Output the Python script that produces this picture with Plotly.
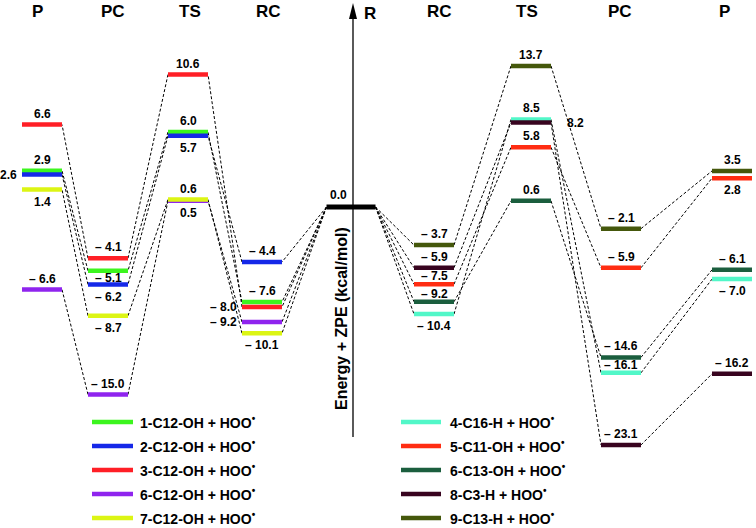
import plotly.graph_objects as go

# ---------------- data ----------------
STAGES = ["RC", "TS", "PC", "P"]

LEFT_NAMES = ["1-C12-OH", "2-C12-OH", "3-C12-OH", "6-C12-OH", "7-C12-OH"]
LEFT_RC = [-7.6, -4.4, -8.0, -9.2, -10.1]
LEFT_TS = [6.0, 5.7, 10.6, 0.5, 0.6]
LEFT_PC = [-5.1, -6.2, -4.1, -15.0, -8.7]
LEFT_P = [2.9, 2.6, 6.6, -6.6, 1.4]

RIGHT_NAMES = ["4-C16-H", "5-C11-OH", "6-C13-OH", "8-C3-H", "9-C13-H"]
RIGHT_RC = [-10.4, -7.5, -9.2, -5.9, -3.7]
RIGHT_TS = [8.5, 5.8, 0.6, 8.2, 13.7]
RIGHT_PC = [-16.1, -5.9, -14.6, -23.1, -2.1]
RIGHT_P = [-7.0, 2.8, -6.1, -16.2, 3.5]

R_ENERGY = 0.0
PARTNER = "HOO"
Y_TITLE = "Energy + ZPE (kcal/mol)"

# ---------------- style / layout ----------------
W, H = 756, 528
FONT = "Liberation Sans, Arial, sans-serif"
LEFT_COLORS = ["#3cf51e", "#1528e8", "#ff1f26", "#8f24ee", "#dcf514"]
RIGHT_COLORS = ["#52f7c8", "#ff2d12", "#1b5e3e", "#38041f", "#45580c"]

LEFT_X = {"RC": 262, "TS": 188, "PC": 108, "P": 42}
RIGHT_X = {"RC": 434, "TS": 531, "PC": 621, "P": 732}
R_X = 351
HALF = 20
R_HALF = 24.5
ZERO_PX = 207
SCALE_L = 12.5   # px per kcal/mol (left half, schematic)
SCALE_R = 10.3   # px per kcal/mol (right half, schematic)

LEFT_LABEL_POS = [
    ["a", "a", "m", "a"],
    ["a", "b", "b", "l"],
    ["l", "a", "a", "a"],
    ["l", "b", "a", "a"],
    ["b", "a", "b", "b"],
]
RIGHT_LABEL_POS = [
    ["b", "a", "ma", "b"],
    ["ma", "a", "a", "b"],
    ["ma", "a", "a", "a"],
    ["a", "r", "a", "a"],
    ["a", "a", "a", "a"],
]
YSHIFT = {"a": 11, "b": -12, "m": -7, "ma": 8}

HEADERS_LEFT = [("P", 37), ("PC", 113), ("TS", 190), ("RC", 268)]
HEADERS_RIGHT = [("RC", 439), ("TS", 527), ("PC", 620), ("P", 724)]


def PX(x):
    return x / W


def PY(y):
    return 1 - y / H


def fmt(v):
    if v < 0:
        return "\u2013 " + f"{abs(v):.1f}"
    return f"{v:.1f}"


fig = go.Figure()
annotations = []
shapes = []


def build_side(names, stage_vals, colors, colx, label_pos, yaxis, side):
    yref = "y" if yaxis == "y" else "y2"
    sign = -1 if side == "left" else 1
    # connectors
    for i in range(len(names)):
        vals = [R_ENERGY] + [sv[i] for sv in stage_vals]
        xs_centers = [R_X] + [colx[s] for s in STAGES]
        halves = [R_HALF] + [HALF] * len(STAGES)
        xs, ys = [], []
        for k in range(len(vals) - 1):
            xs += [xs_centers[k] + sign * halves[k], xs_centers[k + 1] - sign * halves[k + 1], None]
            ys += [vals[k], vals[k + 1], None]
        fig.add_trace(go.Scatter(x=xs, y=ys, mode="lines", yaxis=yaxis,
                                 line=dict(color="black", width=1, dash="3px,2px"),
                                 hoverinfo="skip", showlegend=False))
    # level bars + labels
    for i in range(len(names)):
        xs, ys = [], []
        for j, s in enumerate(STAGES):
            v = stage_vals[j][i]
            xs += [colx[s] - HALF, colx[s] + HALF, None]
            ys += [v, v, None]
            pos = label_pos[i][j]
            ann = dict(text=fmt(v), xref="x", yref=yref, y=v, showarrow=False,
                       yanchor="middle", borderpad=0,
                       font=dict(family=FONT, size=12, color="black", weight="bold"))
            if pos == "l":
                ann.update(x=colx[s] - HALF, xanchor="right", xshift=-4)
            elif pos == "r":
                ann.update(x=colx[s] + HALF, xanchor="left", xshift=15)
            else:
                ann.update(x=colx[s], xanchor="center", yshift=YSHIFT[pos])
            annotations.append(ann)
        fig.add_trace(go.Scatter(x=xs, y=ys, mode="lines", yaxis=yaxis,
                                 line=dict(color=colors[i], width=4.5),
                                 name=names[i], showlegend=False))


build_side(LEFT_NAMES, [LEFT_RC, LEFT_TS, LEFT_PC, LEFT_P], LEFT_COLORS,
           LEFT_X, LEFT_LABEL_POS, "y", "left")
build_side(RIGHT_NAMES, [RIGHT_RC, RIGHT_TS, RIGHT_PC, RIGHT_P], RIGHT_COLORS,
           RIGHT_X, RIGHT_LABEL_POS, "y2", "right")

# reactant level
fig.add_trace(go.Scatter(x=[R_X - R_HALF, R_X + R_HALF], y=[R_ENERGY, R_ENERGY],
                         mode="lines", line=dict(color="black", width=5),
                         showlegend=False, hoverinfo="skip"))
annotations.append(dict(text=fmt(R_ENERGY), x=R_X, y=R_ENERGY, xref="x", yref="y",
                        xanchor="center", yanchor="middle",
                        xshift=-13, yshift=12, showarrow=False,
                        font=dict(family=FONT, size=12, color="black", weight="bold")))

# vertical energy axis with arrow
AX_X = 353
shapes.append(dict(type="line", xref="paper", yref="paper",
                   x0=PX(AX_X), x1=PX(AX_X), y0=PY(437), y1=PY(14),
                   line=dict(color="black", width=1.3)))
shapes.append(dict(type="path", xref="paper", yref="paper",
                   path=f"M {PX(AX_X)},{PY(3)} L {PX(AX_X - 4)},{PY(19)} L {PX(AX_X + 4)},{PY(19)} Z",
                   fillcolor="black", line=dict(color="black", width=0)))
annotations.append(dict(text=Y_TITLE, x=PX(341), y=PY(319), xref="paper", yref="paper",
                        xanchor="center", yanchor="middle",
                        textangle=-90, showarrow=False,
                        font=dict(family=FONT, size=16, color="black", weight="bold")))
annotations.append(dict(text="R", x=PX(370), y=PY(13), xref="paper", yref="paper",
                        xanchor="center", yanchor="middle", showarrow=False,
                        font=dict(family=FONT, size=17, color="black", weight="bold")))

for txt, hx in HEADERS_LEFT + HEADERS_RIGHT:
    annotations.append(dict(text=txt, x=PX(hx), y=PY(12), xref="paper", yref="paper",
                            xanchor="center", yanchor="middle", showarrow=False,
                            font=dict(family=FONT, size=17, color="black", weight="bold")))

# legend (two columns, drawn manually)
LEG_ROWS = [422, 446, 470, 494, 518]
for names, colors, lx0, lx1, tx in [(LEFT_NAMES, LEFT_COLORS, 92, 133, 139),
                                     (RIGHT_NAMES, RIGHT_COLORS, 401, 441, 449)]:
    for name, col, ry in zip(names, colors, LEG_ROWS):
        shapes.append(dict(type="line", xref="paper", yref="paper",
                           x0=PX(lx0), x1=PX(lx1), y0=PY(ry), y1=PY(ry),
                           line=dict(color=col, width=4.5)))
        annotations.append(dict(
            text=f"{name} + {PARTNER}<sup><span style=\"font-size:10px\">\u2022</span></sup>",
            x=PX(tx), y=PY(ry), xref="paper", yref="paper",
            xanchor="left", yanchor="middle", showarrow=False, borderpad=0,
            font=dict(family=FONT, size=14, color="black", weight="bold")))

fig.update_layout(
    width=W, height=H, autosize=False,
    margin=dict(l=0, r=0, t=0, b=0),
    paper_bgcolor="white", plot_bgcolor="white",
    showlegend=False,
    xaxis=dict(range=[0, W], visible=False, fixedrange=True),
    yaxis=dict(range=[-(H - ZERO_PX) / SCALE_L, ZERO_PX / SCALE_L], visible=False),
    yaxis2=dict(range=[-(H - ZERO_PX) / SCALE_R, ZERO_PX / SCALE_R], visible=False,
                overlaying="y"),
    annotations=annotations,
    shapes=shapes,
)

fig.write_html("out.html", config={"displayModeBar": False},
               post_script="document.body.style.margin='0';document.body.style.overflow='hidden';")
